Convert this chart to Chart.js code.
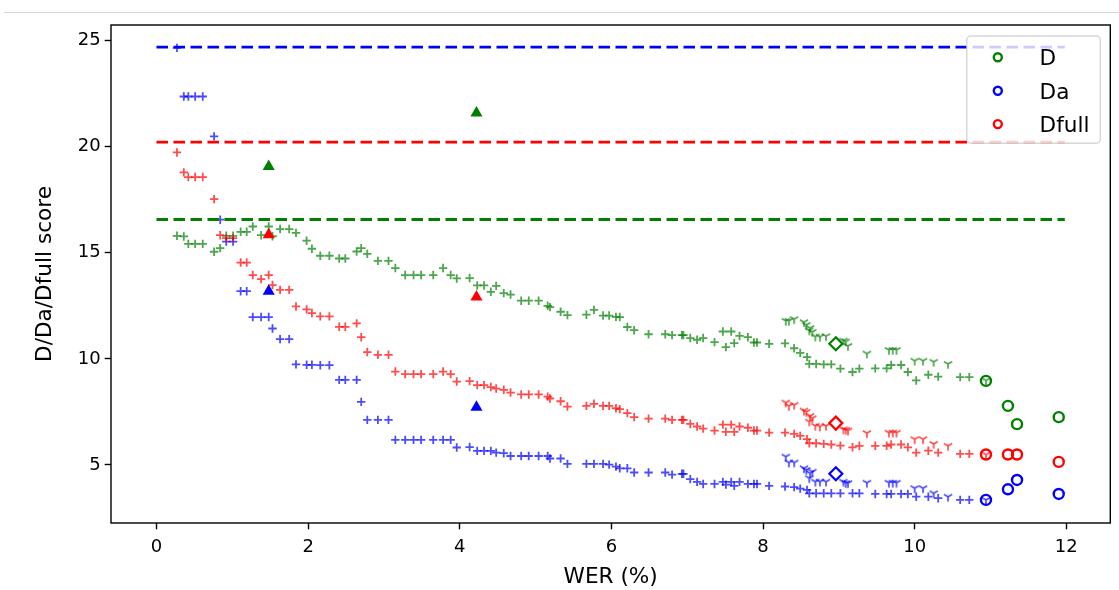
<!DOCTYPE html>
<html>
<head>
<meta charset="utf-8">
<title>D / Da / Dfull score vs WER</title>
<script src="https://cdn.jsdelivr.net/npm/chart.js@4.4.1/dist/chart.umd.min.js"></script>
<style>
  html, body { margin: 0; padding: 0; background: #fff; }
  #wrap { position: relative; width: 1119px; height: 590px; }
  #topRule { position: absolute; left: 4px; right: 0; top: 12px; border-top: 1px solid #d9d9d9; }
  canvas { position: absolute; left: 0; top: 0; }
</style>
</head>
<body>
<div id="wrap">
  <div id="topRule"></div>
  <canvas id="scoreChart" width="1119" height="590"></canvas>
</div>
<script>
(function () {
  "use strict";

  // ticks
  const X_TICKS = [0, 2, 4, 6, 8, 10, 12];
  const Y_TICKS = [5, 10, 15, 20, 25];

  // reference scores (dashed lines), drawn from WER 0 to LINE_END
  const LINE_END = 11.98;
  const REF_D = 16.57;
  const REF_DA = 24.70;
  const REF_DFULL = 20.22;

  // "+" sweep: shared WER values, one score list per metric
  const sweepWer = [
    0.27, 0.36, 0.42, 0.51, 0.61, 0.76, 0.84, 0.92, 1.01, 1.11,
    1.19, 1.27, 1.38, 1.48, 1.53, 1.63, 1.75, 1.84, 1.98, 2.05,
    2.16, 2.28, 2.41, 2.49, 2.64, 2.70, 2.78, 2.92, 3.06, 3.15,
    3.28, 3.39, 3.49, 3.65, 3.78, 3.88, 3.96, 4.13, 4.23, 4.32,
    4.41, 4.48, 4.58, 4.67, 4.81, 4.91, 5.04, 5.16, 5.19, 5.33,
    5.42, 5.67, 5.77, 5.89, 5.97, 6.06, 6.11, 6.21, 6.30, 6.49,
    6.71, 6.80, 6.93, 6.95, 7.04, 7.13, 7.21, 7.36, 7.47, 7.51,
    7.58, 7.62, 7.69, 7.80, 7.88, 7.92, 8.08, 8.29, 8.41, 8.49,
    8.58, 8.61, 8.70, 8.80, 8.90, 9.02, 9.18, 9.27, 9.48, 9.63,
    9.69, 9.82, 9.91, 10.02, 10.18, 10.31, 10.60, 10.72
  ];
  const sweepD = [
    15.80, 15.77, 15.42, 15.42, 15.42, 15.05, 15.22, 15.80, 15.80, 15.99,
    15.99, 16.24, 15.83, 16.24, 15.78, 16.12, 16.12, 15.94, 15.57, 15.19,
    14.86, 14.86, 14.73, 14.73, 15.06, 15.22, 14.95, 14.62, 14.62, 14.28,
    13.95, 13.95, 13.95, 13.95, 14.28, 13.95, 13.79, 13.81, 13.46, 13.46,
    13.16, 13.44, 13.10, 13.03, 12.74, 12.74, 12.74, 12.50, 12.44, 12.22,
    12.06, 12.08, 12.31, 12.04, 12.04, 11.98, 11.97, 11.50, 11.35, 11.16,
    11.16, 11.12, 11.12, 11.12, 10.98, 10.90, 10.98, 10.79, 11.29, 10.55,
    11.29, 10.74, 11.08, 11.02, 10.77, 10.77, 10.71, 10.73, 10.50, 10.28,
    10.08, 9.76, 9.76, 9.74, 9.74, 9.54, 9.38, 9.54, 9.55, 9.55,
    9.71, 9.71, 9.38, 8.98, 9.25, 9.16, 9.14, 9.14
  ];
  const sweepDfull = [
    19.73, 18.79, 18.57, 18.57, 18.57, 17.53, 15.83, 15.69, 15.69, 14.54,
    14.54, 13.95, 13.76, 13.95, 13.48, 13.25, 13.25, 12.47, 12.33, 12.16,
    12.00, 12.00, 11.51, 11.51, 11.67, 11.02, 10.32, 10.19, 10.19, 9.40,
    9.28, 9.28, 9.28, 9.28, 9.40, 9.28, 8.93, 8.95, 8.76, 8.76,
    8.67, 8.60, 8.54, 8.41, 8.32, 8.32, 8.32, 8.22, 8.13, 8.00,
    7.75, 7.78, 7.88, 7.78, 7.78, 7.67, 7.63, 7.44, 7.25, 7.18,
    7.18, 7.12, 7.12, 7.12, 6.93, 6.81, 6.71, 6.62, 6.90, 6.56,
    6.90, 6.56, 6.81, 6.75, 6.62, 6.62, 6.52, 6.52, 6.46, 6.37,
    6.21, 6.02, 6.02, 5.99, 5.96, 5.91, 5.83, 5.90, 5.90, 5.90,
    5.96, 5.96, 5.83, 5.58, 5.67, 5.58, 5.52, 5.52
  ];
  const sweepDa = [
    24.66, 22.37, 22.37, 22.37, 22.37, 20.49, 16.56, 15.53, 15.53, 13.19,
    13.19, 11.97, 11.97, 11.97, 11.43, 10.93, 10.93, 9.74, 9.72, 9.72,
    9.70, 9.70, 9.01, 9.01, 9.01, 7.97, 7.12, 7.12, 7.12, 6.18,
    6.18, 6.18, 6.18, 6.18, 6.18, 6.18, 5.82, 5.84, 5.66, 5.66,
    5.66, 5.58, 5.55, 5.42, 5.42, 5.42, 5.42, 5.42, 5.30, 5.30,
    5.05, 5.05, 5.05, 5.05, 5.01, 4.92, 4.84, 4.84, 4.64, 4.64,
    4.64, 4.54, 4.58, 4.58, 4.33, 4.20, 4.10, 4.10, 4.20, 4.07,
    4.20, 4.01, 4.20, 4.10, 4.10, 4.10, 4.01, 3.98, 3.95, 3.88,
    3.82, 3.66, 3.66, 3.66, 3.66, 3.66, 3.66, 3.66, 3.63, 3.63,
    3.63, 3.63, 3.63, 3.50, 3.50, 3.43, 3.35, 3.35
  ];

  // "Y" (tri-down) sweep
  const triWer = [
    8.30, 8.34, 8.41, 8.54, 8.57, 8.61, 8.62, 8.65, 8.69, 8.75,
    8.83, 9.06, 9.09, 9.12, 9.37, 9.66, 9.71, 9.76, 10.00, 10.11,
    10.25, 10.44, 10.94
  ];
  const triD = [
    11.79, 11.79, 11.87, 11.73, 11.60, 11.34, 11.45, 11.27, 11.05, 11.04,
    11.07, 10.86, 10.82, 10.61, 10.25, 10.42, 10.42, 10.42, 9.91, 9.91,
    9.86, 9.76, 8.98
  ];
  const triDfull = [
    7.94, 7.78, 7.83, 7.56, 7.50, 7.04, 7.31, 7.20, 6.84, 6.81,
    6.84, 6.68, 6.65, 6.62, 6.50, 6.52, 6.52, 6.52, 6.21, 6.21,
    5.99, 5.90, 5.49
  ];
  const triDa = [
    5.39, 5.11, 5.11, 4.84, 4.76, 4.37, 4.61, 4.68, 4.21, 4.21,
    4.21, 4.21, 4.14, 4.14, 4.16, 4.16, 4.16, 4.16, 3.90, 3.90,
    3.66, 3.50, 3.35
  ];

  // filled triangles
  const markWer = [1.48, 4.22];
  const markD = [19.07, 21.59];
  const markDfull = [15.85, 12.91];
  const markDa = [13.19, 7.72];

  // open diamonds
  const diamondWer = [8.96];
  const diamondD = [10.71];
  const diamondDfull = [6.97];
  const diamondDa = [4.58];

  // open circles (legend entries)
  const circleWer = [10.94, 11.23, 11.35, 11.90];
  const circleD = [8.96, 7.78, 6.92, 7.25];
  const circleDfull = [5.49, 5.49, 5.49, 5.14];
  const circleDa = [3.35, 3.85, 4.29, 3.63];

  const GREEN = "#008000";
  const BLUE = "#0000ff";
  const RED = "#ff0000";
  const FONT = "'DejaVu Sans', 'Liberation Sans', sans-serif";

  function fade(hex, alpha) {
    const n = parseInt(hex.slice(1), 16);
    return `rgba(${(n >> 16) & 255}, ${(n >> 8) & 255}, ${n & 255}, ${alpha})`;
  }

  function points(xs, ys) {
    return xs.map((x, i) => ({ x, y: ys[i] }));
  }

  // matplotlib-like "1" marker: a Y with one arm down
  function triDown(color) {
    const c = document.createElement("canvas");
    c.width = 12;
    c.height = 12;
    const g = c.getContext("2d");
    const r = 4.8;
    g.strokeStyle = color;
    g.lineWidth = 1.6;
    g.beginPath();
    g.moveTo(6, 6);
    g.lineTo(6, 6 + r);
    g.moveTo(6, 6);
    g.lineTo(6 - r * 0.866, 6 - r * 0.5);
    g.moveTo(6, 6);
    g.lineTo(6 + r * 0.866, 6 - r * 0.5);
    g.stroke();
    return c;
  }

  function refLine(value, color, order) {
    return {
      data: [{ x: 0, y: value }, { x: LINE_END, y: value }],
      showLine: true,
      borderColor: color,
      borderWidth: 2.8,
      borderDash: [11.5, 5.5],
      pointRadius: 0,
      order
    };
  }

  function sweep(xs, ys, color, order) {
    return {
      data: points(xs, ys),
      pointStyle: "cross",
      pointRadius: 4.2,
      pointBorderWidth: 1.8,
      pointBorderColor: fade(color, 0.7),
      pointBackgroundColor: fade(color, 0.7),
      order
    };
  }

  function tris(xs, ys, color, order) {
    return {
      data: points(xs, ys),
      pointStyle: triDown(fade(color, 0.75)),
      pointRadius: 5,
      order
    };
  }

  function filled(xs, ys, color, order) {
    return {
      data: points(xs, ys),
      pointStyle: "triangle",
      pointRadius: 7,
      pointBorderWidth: 0,
      pointBackgroundColor: color,
      pointBorderColor: color,
      order
    };
  }

  function diamond(xs, ys, color, order) {
    return {
      data: points(xs, ys),
      pointStyle: "rectRot",
      pointRadius: 6.5,
      pointBorderWidth: 2.2,
      pointBorderColor: color,
      pointBackgroundColor: "rgba(0,0,0,0)",
      order
    };
  }

  function circles(label, xs, ys, color, order) {
    return {
      label,
      legendMarker: true,
      data: points(xs, ys),
      pointStyle: "circle",
      pointRadius: 5,
      pointBorderWidth: 2.4,
      pointBorderColor: color,
      pointBackgroundColor: "rgba(0,0,0,0)",
      order
    };
  }

  // full box around the plotting area
  const frame = {
    id: "frame",
    afterDatasetsDraw(chart) {
      const { ctx, chartArea: a } = chart;
      ctx.save();
      ctx.strokeStyle = "#000";
      ctx.lineWidth = 1.4;
      ctx.strokeRect(a.left, a.top, a.right - a.left, a.bottom - a.top);
      ctx.restore();
    }
  };

  // boxed legend in the upper right corner, only for the circle series
  const boxLegend = {
    id: "boxLegend",
    afterDraw(chart) {
      const { ctx, chartArea: a } = chart;
      const items = chart.data.datasets.filter((d) => d.legendMarker);
      const right = a.right - 10;
      const left = right - 133.5;
      const top = a.top + 11;
      const rowH = 33.4;
      const height = 107.3;

      ctx.save();
      ctx.beginPath();
      ctx.roundRect(left, top, right - left, height, 4);
      ctx.fillStyle = "rgba(255,255,255,0.8)";
      ctx.fill();
      ctx.strokeStyle = "rgba(204,204,204,0.8)";
      ctx.lineWidth = 1.4;
      ctx.stroke();

      ctx.font = `21.6px ${FONT}`;
      ctx.textAlign = "left";
      ctx.textBaseline = "alphabetic";
      items.forEach((d, i) => {
        const cy = top + 21.3 + i * rowH;
        ctx.beginPath();
        ctx.arc(left + 31, cy, 4, 0, Math.PI * 2);
        ctx.strokeStyle = d.pointBorderColor;
        ctx.lineWidth = 2.4;
        ctx.stroke();
        ctx.fillStyle = "#000";
        ctx.fillText(d.label, left + 72.7, cy + 7.9);
      });
      ctx.restore();
    }
  };

  const datasets = [
    circles("D", circleWer, circleD, GREEN, 1),
    circles("Da", circleWer, circleDa, BLUE, 1),
    circles("Dfull", circleWer, circleDfull, RED, 1),
    diamond(diamondWer, diamondD, GREEN, 2),
    diamond(diamondWer, diamondDa, BLUE, 2),
    diamond(diamondWer, diamondDfull, RED, 2),
    filled(markWer, markD, GREEN, 3),
    filled(markWer, markDa, BLUE, 3),
    filled(markWer, markDfull, RED, 3),
    refLine(REF_D, GREEN, 4),
    refLine(REF_DA, BLUE, 4),
    refLine(REF_DFULL, RED, 4),
    tris(triWer, triD, GREEN, 5),
    tris(triWer, triDa, BLUE, 5),
    tris(triWer, triDfull, RED, 5),
    sweep(sweepWer, sweepDfull, RED, 6),
    sweep(sweepWer, sweepDa, BLUE, 7),
    sweep(sweepWer, sweepD, GREEN, 8)
  ];

  const tickFont = { family: FONT, size: 18 };
  const titleFont = { family: FONT, size: 21.6 };

  function axisGrid() {
    return {
      drawOnChartArea: false,
      drawTicks: true,
      tickLength: 6.3,
      tickWidth: 1.4,
      tickColor: "#000"
    };
  }

  new Chart(document.getElementById("scoreChart"), {
    type: "scatter",
    data: { datasets },
    options: {
      responsive: false,
      animation: false,
      events: [],
      layout: { padding: { top: 25, right: 8, bottom: 0, left: 0 } },
      plugins: {
        legend: { display: false },
        tooltip: { enabled: false }
      },
      scales: {
        x: {
          type: "linear",
          min: -0.6,
          max: 12.58,
          afterBuildTicks: (scale) => { scale.ticks = X_TICKS.map((v) => ({ value: v })); },
          afterFit: (scale) => { scale.height = 67; },
          grid: axisGrid(),
          border: { display: false },
          ticks: { color: "#000", font: tickFont, padding: 7, maxRotation: 0, callback: (v) => String(v) },
          title: { display: true, text: "WER (%)", color: "#000", font: titleFont, padding: { top: 0, bottom: 0 } }
        },
        y: {
          type: "linear",
          min: 2.26,
          max: 25.74,
          afterBuildTicks: (scale) => { scale.ticks = Y_TICKS.map((v) => ({ value: v })); },
          afterFit: (scale) => { scale.width = 111; },
          grid: axisGrid(),
          border: { display: false },
          ticks: { color: "#000", font: tickFont, padding: 4, callback: (v) => String(v) },
          title: { display: true, text: "D/Da/Dfull score", color: "#000", font: titleFont, padding: { top: 32, bottom: 0 } }
        }
      }
    },
    plugins: [frame, boxLegend]
  });
})();
</script>
</body>
</html>
